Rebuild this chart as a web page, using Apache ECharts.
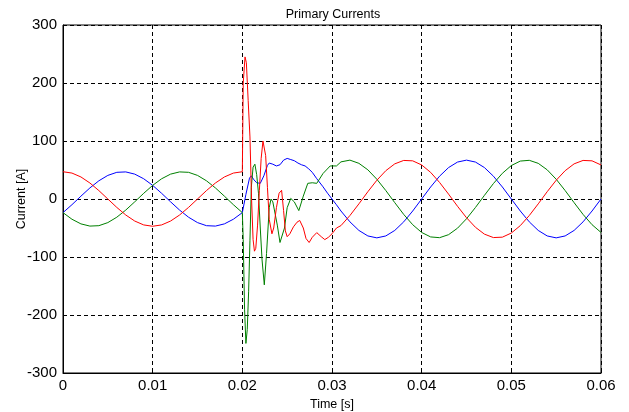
<!DOCTYPE html>
<html>
<head>
<meta charset="utf-8">
<script src="https://cdn.jsdelivr.net/npm/echarts@6/dist/echarts.min.js"></script>
<style>
html,body{margin:0;padding:0;background:#fff;}
#chart{width:629px;height:412px;}
</style>
</head>
<body>
<div id="chart"></div>
<script>
// Times in milliseconds, currents in amperes
const preT = [0,1,2,3,4,5,6,7,8,9,10,11,12,13,14,15,16,17,18,19,20];
const postT = [31,32,33,34,35,36,37,38,39,40,41,42,43,44,45,46,47,48,49,50,51,52,53,54,55,56,57,58,59,60];

const redPre = [47,44.7,38,27.6,14.5,0,-14.5,-27.6,-38,-44.7,-47,-44.7,-38,-27.6,-14.5,0,14.5,27.6,38,44.7,47];
const redTransT = [20.1,20.3,20.45,20.65,20.85,21.03,21.2,21.35,21.5,21.7,21.9,22.1,22.3,22.45,22.6,22.8,23.0,23.3,23.5,23.8,24.1,24.38,24.6,24.8,25.0,25.3,25.7,26.1,26.4,26.8,27.1,27.45,27.8,28.3,28.8,29.2,29.6,30.0,30.5];
const redTransI = [200,245,235,170,107,0,-70,-90,-85,-45,15,70,100,103,75,20,-35,-60,-50,-15,10,15,-20,-55,-65,-60,-48,-40,-37,-50,-68,-75,-66,-58,-65,-70,-66,-60,-50];
const redPost = [-45.9,-28.5,-8.4,12.6,32.3,48.8,60.6,66.5,65.8,58.7,45.9,28.5,8.4,-12.6,-32.3,-48.8,-60.6,-66.5,-65.8,-58.7,-45.9,-28.5,-8.4,12.6,32.3,48.8,60.6,66.5,65.8,58.7];

const bluePre = [-23.5,-9.8,4.9,19.1,31.4,40.7,46,46.7,42.9,34.9,23.5,9.8,-4.9,-19.1,-31.4,-40.7,-46,-46.7,-42.9,-34.9,-23.5];
const blueTransT = [20.4,20.8,21.0,21.3,21.6,22.0,22.4,22.8,23.0,23.4,23.8,24.2,24.6,25.0,25.4,25.8,26.2,26.6,27.0,27.4,27.8,28.3,29.0,29.5,30.0,30.5];
const blueTransI = [8,36,40,33,28,27,40,58,62,60,57,59,67,70,68,66,62,59,57,52,46,35,21,10,0,-10];
const bluePost = [-20.7,-39.4,-54.2,-63.7,-67,-63.7,-54.2,-39.4,-20.7,0,20.7,39.4,54.2,63.7,67,63.7,54.2,39.4,20.7,0,-20.7,-39.4,-54.2,-63.7,-67,-63.7,-54.2,-39.4,-20.7,0];

const greenPre = [-23.5,-34.9,-42.9,-46.7,-46,-40.7,-31.4,-19.1,-4.9,9.8,23.5,34.9,42.9,46.7,46,40.7,31.4,19.1,4.9,-9.8,-23.5];
const greenTransT = [20.1,20.25,20.4,20.55,20.7,20.85,21.0,21.2,21.4,21.6,21.8,22.0,22.2,22.45,22.7,23.0,23.2,23.4,23.6,23.9,24.2,24.4,24.7,25.0,25.4,25.8,26.3,26.8,27.3,27.8,28.3,29.0,29.8,30.5];
const greenTransI = [-70,-190,-249,-225,-160,-71,20,55,60,42,10,-50,-105,-148,-94,-15,0,-5,-3,-45,-75,-78,-50,-15,1,-5,-20,5,27,28,27,44,57,57];
const greenPost = [64,67,61.5,50.3,34.1,14.6,-6.3,-26.6,-44.3,-57.7,-65.4,-66.7,-61.5,-50.3,-34.1,-14.6,6.3,26.6,44.3,57.7,65.4,66.7,61.5,50.3,34.1,14.6,-6.3,-26.6,-44.3,-57.7];

const xTicks = [0, 0.01, 0.02, 0.03, 0.04, 0.05, 0.06];
const yTicks = [-300, -200, -100, 0, 100, 200, 300];

function build(tA, vA, tB, vB, tC, vC) {
  const ts = tA.concat(tB, tC);
  const vs = vA.concat(vB, vC);
  return ts.map((t, i) => [t / 1000, vs[i]]);
}

const FONT = '"Liberation Sans", Arial, sans-serif';
const chart = echarts.init(document.getElementById('chart'), null, {renderer: 'canvas'});
const mkSeries = (name, color, data) => ({
  name, type: 'line', data, showSymbol: false, symbol: 'none',
  lineStyle: {color, width: 1}, itemStyle: {color}, animation: false, z: 3
});
chart.setOption({
  animation: false,
  backgroundColor: '#fff',
  title: {
    text: 'Primary Currents', left: 328, top: 3, textAlign: 'center',
    textStyle: {fontFamily: FONT, fontSize: 12.5, fontWeight: 'normal', color: '#000'}
  },
  grid: {left: 63, right: 28, top: 25, bottom: 39, containLabel: false, outerBoundsMode: 'none',
    show: true, borderColor: '#000', borderWidth: 1, backgroundColor: '#fff'},
  xAxis: {
    type: 'value', min: xTicks[0], max: xTicks[xTicks.length - 1], interval: 0.01,
    name: 'Time [s]', nameLocation: 'middle', nameGap: 25, nameMoveOverlap: false,
    nameTextStyle: {fontFamily: FONT, fontSize: 12.5, color: '#000'},
    axisLine: {show: true, onZero: false, lineStyle: {color: '#000', width: 1}},
    axisTick: {show: true, inside: true, length: 4, lineStyle: {color: '#000'}},
    axisLabel: {fontFamily: FONT, fontSize: 15, color: '#000', margin: 5,
      formatter: v => { const m = xTicks.find(x => Math.abs(x - v) < 1e-9); return m === 0 ? '0' : (m !== undefined ? m.toFixed(2) : ''); }},
    splitLine: {show: true, lineStyle: {color: '#000', width: 1, type: [4, 3]}}
  },
  yAxis: {
    type: 'value', min: yTicks[0], max: yTicks[yTicks.length - 1], interval: 100,
    name: 'Current [A]', nameLocation: 'middle', nameGap: 35, nameRotate: 90, nameMoveOverlap: false,
    nameTextStyle: {fontFamily: FONT, fontSize: 12.5, color: '#000'},
    axisLine: {show: true, onZero: false, lineStyle: {color: '#000', width: 1}},
    axisTick: {show: true, inside: true, length: 4, lineStyle: {color: '#000'}},
    axisLabel: {fontFamily: FONT, fontSize: 15, color: '#000', margin: 6},
    splitLine: {show: true, lineStyle: {color: '#000', width: 1, type: [4, 3]}}
  },
  series: [
    mkSeries('Phase B', '#0000ff', build(preT, bluePre, blueTransT, blueTransI, postT, bluePost)),
    mkSeries('Phase C', '#008000', build(preT, greenPre, greenTransT, greenTransI, postT, greenPost)),
    mkSeries('Phase A', '#ff0000', build(preT, redPre, redTransT, redTransI, postT, redPost))
  ]
});
</script>
</body>
</html>
